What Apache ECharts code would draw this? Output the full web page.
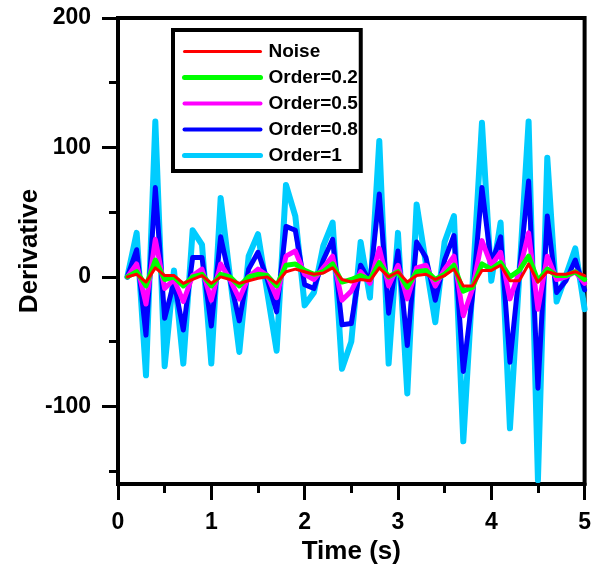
<!DOCTYPE html>
<html>
<head>
<meta charset="utf-8">
<script src="https://cdn.jsdelivr.net/npm/echarts@6/dist/echarts.min.js"></script>
<style>html,body{margin:0;padding:0;background:#fff}#c{width:594px;height:570px}</style>
</head>
<body>
<div id="c"></div>
<script>
const times = [0.1,0.2,0.3,0.4,0.5,0.6,0.7,0.8,0.9,1.0,
  1.1,1.2,1.3,1.4,1.5,1.6,1.7,1.8,1.9,2.0,
  2.1,2.2,2.3,2.4,2.5,2.6,2.7,2.8,2.9,3.0,
  3.1,3.2,3.3,3.4,3.5,3.6,3.7,3.8,3.9,4.0,
  4.1,4.2,4.3,4.4,4.5,4.6,4.7,4.8,4.9,5.0];

const noise = [0,2,-4,7,1,1,-5,-2,1,-5,
  0,-2,-5,-3,-1,0,-5,4,6,4,
  2,3,7,-2,-4,-2,-3,7,0,4,
  -4,1,2,-2,1,6,-7,-7,5,5,
  9,-3,-3,10,-4,4,2,2,4,1];

const order02 = [0,4,-7,13,-2,0,-7,0,2,-7,
  2,0,-7,0,2,1,-7,9,10,5,
  2,4,10,-4,-2,1,-2,11,0,4,
  -8,4,5,-2,2,9,-11,-8,10,6,
  11,0,5,16,-3,6,1,1,4,-2];

const order05 = [0,10,-21,29,-9,-2,-19,1,6,-18,
  10,-2,-17,0,6,1,-16,16,20,2,
  -2,7,16,-18,-11,4,-5,22,-7,9,
  -17,7,9,-7,6,16,-30,-9,28,9,
  19,-17,4,34,-25,16,-2,0,4,-5];

const order08 = [0,21,-45,69,-32,-4,-41,15,15,-38,
  31,-2,-34,6,19,-2,-27,39,36,-6,
  -9,13,29,-37,-36,9,-4,64,-28,20,
  -53,27,15,-18,13,32,-73,-14,69,10,
  31,-66,4,74,-86,47,-12,-3,13,-10];

const order1 = [0,34,-76,120,-69,5,-67,36,25,-67,
  61,0,-58,16,33,-12,-57,71,47,-22,
  -12,24,42,-71,-50,27,-16,105,-67,34,
  -90,56,10,-35,27,47,-127,-5,119,-3,
  42,-117,1,120,-157,92,-19,1,22,-25];

const seriesNames = ['Noise','Order=0.2','Order=0.5','Order=0.8','Order=1'];
const seriesColors = ['#ff0000','#00ff00','#ff00ff','#0000ff','#00ccff'];
const seriesWidths = [3,5,5,5,6];
const legendWidths = [3,5,4,4,5];
const yMajorTicks = [-100,0,100,200];
const yMinorTicks = [-150,-50,50,150];

const pair = arr => times.map((t,i)=>[t, arr[i]]);
const FONT = 'Liberation Sans, Arial, sans-serif';

const chart = echarts.init(document.getElementById('c'), null, {renderer:'canvas'});

function line(idx, data, z) {
  const color = seriesColors[idx];
  return {name:seriesNames[idx], type:'line', data:pair(data), symbol:'none', showSymbol:false, z,
    lineStyle:{color, width:seriesWidths[idx], join:'round', cap:'round'}, itemStyle:{color}, animation:false};
}

chart.setOption({
  animation:false,
  backgroundColor:'#fff',
  grid:{left:118, right:8, top:18, bottom:85, show:true, borderColor:'#000', borderWidth:4, backgroundColor:'transparent'},
  legend:{
    orient:'vertical', left:173, top:30,
    data:seriesNames.map((n,i)=>({name:n, itemStyle:{opacity:0}, lineStyle:{width:legendWidths[i], color:seriesColors[i]}})),
    itemWidth:76, itemHeight:14, itemGap:7,
    borderColor:'#000', borderWidth:4,
    padding:[12,3,6,9],
    backgroundColor:'#fff',
    textStyle:{fontFamily:FONT, fontWeight:'bold', fontSize:19, color:'#000', lineHeight:19, padding:[0,0,0,3]}
  },
  xAxis:{
    type:'value', min:0, max:5, interval:1,
    name:'Time (s)', nameLocation:'middle', nameGap:55, nameMoveOverlap:false,
    nameTextStyle:{fontFamily:FONT, fontWeight:'bold', fontSize:26, color:'#000'},
    axisLine:{show:true, onZero:false, lineStyle:{color:'#000', width:4}},
    axisTick:{show:true, inside:false, length:16, lineStyle:{color:'#000', width:3}},
    minorTick:{show:true, splitNumber:2, length:9, lineStyle:{color:'#000', width:3}},
    axisLabel:{fontFamily:FONT, fontWeight:'bold', fontSize:23, color:'#000', margin:27},
    splitLine:{show:false}
  },
  yAxis:[{
    type:'value', min:-160, max:200,
    name:'Derivative', nameLocation:'middle', nameGap:75, nameRotate:90, nameMoveOverlap:false,
    nameTextStyle:{fontFamily:FONT, fontWeight:'bold', fontSize:26, color:'#000'},
    axisLine:{show:true, onZero:false, lineStyle:{color:'#000', width:4}},
    axisTick:{show:true, inside:false, length:16, customValues:yMajorTicks, lineStyle:{color:'#000', width:3}},
    axisLabel:{fontFamily:FONT, fontWeight:'bold', fontSize:23, color:'#000', margin:27, customValues:yMajorTicks},
    splitLine:{show:false}
  },{
    type:'value', min:-160, max:200, position:'left',
    axisLine:{show:false, onZero:false},
    axisTick:{show:true, inside:false, length:9, customValues:yMinorTicks, lineStyle:{color:'#000', width:3}},
    axisLabel:{show:false},
    splitLine:{show:false}
  }],
  series:[
    line(4, order1, 1),
    line(3, order08, 2),
    line(2, order05, 3),
    line(1, order02, 4),
    line(0, noise, 5)
  ]
});
</script>
</body>
</html>
